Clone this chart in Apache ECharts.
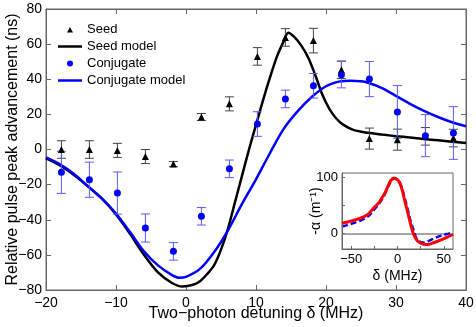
<!DOCTYPE html>
<html>
<head>
<meta charset="utf-8">
<script src="https://cdn.jsdelivr.net/npm/echarts@6/dist/echarts.min.js"></script>
<style>
    html, body { margin: 0; padding: 0; background: #fff; }
    #chart { width: 476px; height: 327px; }
</style>
</head>
<body>
<div id="chart"></div>
<script>
// measured points (MHz / ns)
const detuning = [-17.8, -13.8, -9.8, -5.8, -1.8, 2.2, 6.2, 10.2, 14.2, 18.2, 22.2, 26.2, 30.2, 34.2, 38.2];
const seedAdv = [0, 0, -0.5, -4, -8.3, 18.5, 26, 53, 63.8, 62, 45.4, 6.2, 5.6, 7.5, 6.5];
const seedErr = [5, 5, 4, 4, 1.5, 2, 4, 5, 5, 7, 5, 6, 6, 5, 5];
const conjAdv = [-13, -17.2, -24.8, -44.7, -58, -38, -11, 14.5, 28.8, 36.3, 42.6, 40.1, 21.4, 7.9, 9.4];
const conjErr = [12, 10, 12, 8, 5, 5, 5, 7, 5, 7, 7.5, 10, 15, 12, 15];

// model curves
const seedModelX = [-20, -18, -16, -14, -12, -10, -8, -6, -4, -2, -0.5, 1, 2, 3, 4, 5, 6, 7, 8, 9, 10, 11, 12, 13, 14, 14.6, 15.5, 16.5, 17.5, 18.5, 19.5, 20.5, 21.5, 22.5, 24, 26, 28, 30, 32, 34, 36, 38, 40];
const seedModelY = [-5, -9, -14.5, -21, -28, -37, -48, -60, -70, -76, -78, -77, -75, -71, -66, -57, -45, -30, -15, 0, 14, 28, 41, 53, 62, 66.5, 64, 59, 52, 42, 31, 23, 17.5, 14, 11, 9.5, 8.5, 7.6, 6.8, 6, 5.2, 4.4, 3.7];
const conjModelX = [-20, -18, -16, -14, -12, -10, -8, -6, -4, -2, -1, 0, 2, 4, 6, 8, 10, 12, 14, 16, 18, 20, 22, 23.5, 25, 26, 28, 30, 32, 34, 36, 38, 40];
const conjModelY = [-4.5, -8.5, -14, -21, -28, -36.5, -47, -58, -66, -71.5, -73, -72.5, -68, -58.5, -46, -31, -17, -2, 12, 22, 30, 36, 38.8, 39.2, 38.8, 38, 35, 30.5, 26, 22, 18.5, 15.5, 13.2];

// inset: -alpha vs delta
const insetRedX = [-60, -50, -40, -32, -26, -20, -17, -13, -10, -7, -4, -2, 0, 2.5, 5, 8, 11, 13.5, 17, 20, 22.5, 26, 30, 34, 37, 42, 49.5, 55, 60];
const insetRedY = [18, 22, 27, 34, 45, 55, 63, 74, 86, 95, 99, 98, 96, 90, 78, 57, 38, 21, 0, -10, -15, -18.5, -20, -19.5, -18, -15, -10, -6, -2];
const insetBlueX = [-60, -50, -40, -32, -26, -20, -15, -10, -6, -3.5, -1, 2, 5, 8, 11, 13.5, 17, 20.5, 24, 28, 33, 38.5, 44, 49.5, 55, 60];
const insetBlueY = [12, 17, 23, 30, 41, 53, 66, 84, 95, 98.5, 97, 92, 80, 62, 43, 26, 7.5, -9, -14.5, -16.5, -14, -10, -6, -3, -0.5, 2];

const FONT = 'Liberation Sans, Arial, sans-serif';
const minus = v => String(v).replace('-', '\u2212');

const pairs = (xs, ys) => xs.map((x, i) => [x, ys[i]]);
const errData = (ys, es) => detuning.map((x, i) => [x, ys[i] - es[i], ys[i] + es[i]]);

// legend icons (24x8 box, shape in the middle)
const iconTri = 'path://M0,0 M24,8 M9,7 L15,7 L12,1.5 Z';
const iconDot = 'path://M0,0 M24,8 M9,4 A3,3 0 1,0 15,4 A3,3 0 1,0 9,4 Z';
const iconLine = 'path://M0,0 M24,8 M0,2.75 L24,2.75 L24,5.25 L0,5.25 Z';

function errBars(color) {
    return function (params, api) {
        const x = api.value(0);
        const lo = api.coord([x, api.value(1)]);
        const hi = api.coord([x, api.value(2)]);
        const w = 4.5;
        const st = { stroke: color, lineWidth: 1, fill: null };
        return {
            type: 'group',
            children: [
                { type: 'line', shape: { x1: hi[0], y1: hi[1], x2: lo[0], y2: lo[1] }, style: st },
                { type: 'line', shape: { x1: hi[0] - w, y1: hi[1], x2: hi[0] + w, y2: hi[1] }, style: st },
                { type: 'line', shape: { x1: lo[0] - w, y1: lo[1], x2: lo[0] + w, y2: lo[1] }, style: st }
            ]
        };
    };
}

const axisCommon = {
    nameMoveOverlap: false,
    axisLine: { show: true, onZero: false, lineStyle: { color: '#666', width: 1 } },
    axisTick: { show: true, inside: true, length: 5, lineStyle: { color: '#666' } },
    splitLine: { show: false },
};

let myChart = echarts.init(document.getElementById('chart'));

const option = {
    animation: false,
    textStyle: { fontFamily: FONT },
    grid: [
        { left: 46, top: 9, width: 420, height: 281, outerBoundsMode: 'none', containLabel: false,
          show: true, borderColor: '#666', borderWidth: 1, backgroundColor: 'transparent' },
        { left: 342, top: 173, width: 111, height: 76, outerBoundsMode: 'none', containLabel: false,
          show: true, borderColor: '#666', borderWidth: 1, backgroundColor: '#fff', z: 5 }
    ],
    legend: {
        orient: 'vertical',
        left: 53,
        top: 18,
        itemWidth: 24,
        itemHeight: 8,
        itemGap: 4,
        textStyle: { fontFamily: FONT, fontSize: 13, color: '#000' },
        data: [
            { name: 'Seed', icon: iconTri },
            { name: 'Seed model', icon: iconLine },
            { name: 'Conjugate', icon: iconDot },
            { name: 'Conjugate model', icon: iconLine }
        ]
    },
    xAxis: [
        Object.assign({}, axisCommon, {
            type: 'value', gridIndex: 0, min: -20, max: 40, interval: 10,
            name: 'Two\u2212photon detuning \u03b4 (MHz)', nameLocation: 'middle', nameGap: 16,
            nameTextStyle: { fontSize: 16, color: '#000', fontFamily: FONT },
            axisLabel: { fontSize: 14, color: '#000', margin: 6, formatter: minus }
        }),
        Object.assign({}, axisCommon, {
            type: 'value', gridIndex: 0, position: 'top', min: -20, max: 40, interval: 10,
            axisLabel: { show: false }
        }),
        Object.assign({}, axisCommon, {
            type: 'value', gridIndex: 1, min: -60, max: 60, z: 7,
            axisTick: { show: true, inside: true, length: 3, lineStyle: { color: '#666' }, customValues: [-50, -25, 0, 25, 50] },
            name: '\u03b4 (MHz)', nameLocation: 'middle', nameGap: 20,
            nameTextStyle: { fontSize: 14, color: '#000', fontFamily: FONT },
            axisLabel: { fontSize: 13, color: '#000', margin: 4, customValues: [-50, 0, 50], formatter: minus }
        })
    ],
    yAxis: [
        Object.assign({}, axisCommon, {
            type: 'value', gridIndex: 0, min: -80, max: 80, interval: 20,
            name: 'Relative pulse peak advancement (ns)', nameLocation: 'middle', nameGap: 25,
            nameTextStyle: { fontSize: 16, color: '#000', fontFamily: FONT },
            axisLabel: { fontSize: 14, color: '#000', margin: 4, formatter: minus }
        }),
        Object.assign({}, axisCommon, {
            type: 'value', gridIndex: 0, position: 'right', min: -80, max: 80, interval: 20,
            axisLabel: { show: false }
        }),
        Object.assign({}, axisCommon, {
            type: 'value', gridIndex: 1, min: -28, max: 108, z: 7,
            axisTick: { show: true, inside: true, length: 3, lineStyle: { color: '#666' }, customValues: [0, 50, 100] },
            name: '-\u03b1 (m\u207b\u00b9)', nameLocation: 'middle', nameGap: 19,
            nameTextStyle: { fontSize: 14, color: '#000', fontFamily: FONT },
            axisLabel: { fontSize: 13, color: '#000', margin: 4, customValues: [0, 100], formatter: minus }
        })
    ],
    series: [
        {
            name: 'seedErr', type: 'custom', xAxisIndex: 0, yAxisIndex: 0,
            renderItem: errBars('#444'), encode: { x: 0, y: [1, 2] },
            data: errData(seedAdv, seedErr), z: 3
        },
        {
            name: 'conjErr', type: 'custom', xAxisIndex: 0, yAxisIndex: 0,
            renderItem: errBars('#5b5bff'), encode: { x: 0, y: [1, 2] },
            data: errData(conjAdv, conjErr), z: 3
        },
        {
            name: 'Seed model', type: 'line', xAxisIndex: 0, yAxisIndex: 0,
            data: pairs(seedModelX, seedModelY), smooth: 0.3, symbol: 'none',
            lineStyle: { color: '#000', width: 2.5 }, itemStyle: { color: '#000' }, z: 2
        },
        {
            name: 'Conjugate model', type: 'line', xAxisIndex: 0, yAxisIndex: 0,
            data: pairs(conjModelX, conjModelY), smooth: 0.3, symbol: 'none',
            lineStyle: { color: '#0000ff', width: 2.5 }, itemStyle: { color: '#0000ff' }, z: 2
        },
        {
            name: 'Seed', type: 'scatter', xAxisIndex: 0, yAxisIndex: 0,
            data: pairs(detuning, seedAdv), symbol: 'triangle', symbolSize: 7,
            itemStyle: { color: '#000', opacity: 1 }, z: 4
        },
        {
            name: 'Conjugate', type: 'scatter', xAxisIndex: 0, yAxisIndex: 0,
            data: pairs(detuning, conjAdv), symbol: 'circle', symbolSize: 7,
            itemStyle: { color: '#0000ff', opacity: 1 }, z: 4
        },
        {
            name: 'insetBlue', type: 'line', xAxisIndex: 2, yAxisIndex: 2,
            data: pairs(insetBlueX, insetBlueY), smooth: 0.3, symbol: 'none',
            lineStyle: { color: '#0000ff', width: 2.5, type: [6, 3] }, z: 6,
            markLine: {
                silent: true, symbol: 'none', label: { show: false },
                lineStyle: { color: '#888', width: 1.5, type: 'solid' },
                data: [{ yAxis: 0 }]
            }
        },
        {
            name: 'insetRed', type: 'line', xAxisIndex: 2, yAxisIndex: 2,
            data: pairs(insetRedX, insetRedY), smooth: 0.3, symbol: 'none',
            lineStyle: { color: '#ff0000', width: 3 }, z: 7
        }
    ]
};

myChart.setOption(option);
</script>
</body>
</html>
